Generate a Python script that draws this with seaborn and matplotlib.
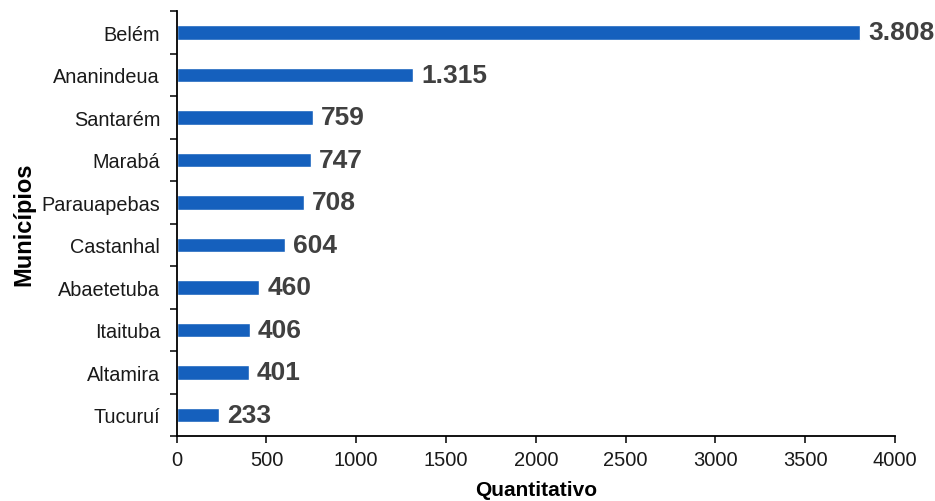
import numpy as np
import pandas as pd
import seaborn as sns
import matplotlib.pyplot as plt
from matplotlib.ticker import FixedLocator, NullFormatter

municipios = ['Belém', 'Ananindeua', 'Santarém', 'Marabá', 'Parauapebas',
              'Castanhal', 'Abaetetuba', 'Itaituba', 'Altamira', 'Tucuruí']
quantitativo = [3808, 1315, 759, 747, 708, 604, 460, 406, 401, 233]

df = pd.DataFrame({'Municípios': municipios, 'Quantitativo': quantitativo})

sns.set_style('white')
plt.rcParams['font.family'] = ['Liberation Sans', 'DejaVu Sans']

fig, ax = plt.subplots(figsize=(9.35, 5.02), dpi=100)
fig.subplots_adjust(left=0.189, right=0.957, bottom=0.129, top=0.976)

sns.barplot(data=df, x='Quantitativo', y='Municípios', color='#1560bd',
            width=0.34, saturation=1, ax=ax)

def fmt(v):
    return '{:,}'.format(v).replace(',', '.')

for i, v in enumerate(quantitativo):
    ax.annotate(fmt(v), (v, i), xytext=(6, 0), textcoords='offset points',
                va='center', ha='left', fontsize=19, fontweight='bold',
                color='#404040')

ax.set_xlim(0, 4000)
ax.set_ylim(len(municipios) - 0.5, -0.5)
ax.set_xticks(np.arange(0, 4001, 500))

# ticks between categories
ax.yaxis.set_minor_locator(FixedLocator(np.arange(-0.5, len(municipios), 1)))
ax.yaxis.set_minor_formatter(NullFormatter())
ax.tick_params(axis='y', which='major', length=0, labelsize=14.3, pad=12,
               labelcolor='#1a1a1a')
ax.tick_params(axis='y', which='minor', length=5, width=1.3, direction='out', left=True)
ax.tick_params(axis='x', length=5, width=1.3, direction='out', labelsize=14.5,
               pad=5, bottom=True, labelcolor='#1a1a1a')

for s in ['top', 'right']:
    ax.spines[s].set_visible(False)
for s in ['left', 'bottom']:
    ax.spines[s].set_color('black')
    ax.spines[s].set_linewidth(1.3)

ax.set_xlabel('Quantitativo', fontsize=15, fontweight='bold', labelpad=8,
              color='black')
ax.set_ylabel('Municípios', fontsize=17, fontweight='bold', labelpad=4,
              color='black')

fig.savefig('out.png', dpi=100)
